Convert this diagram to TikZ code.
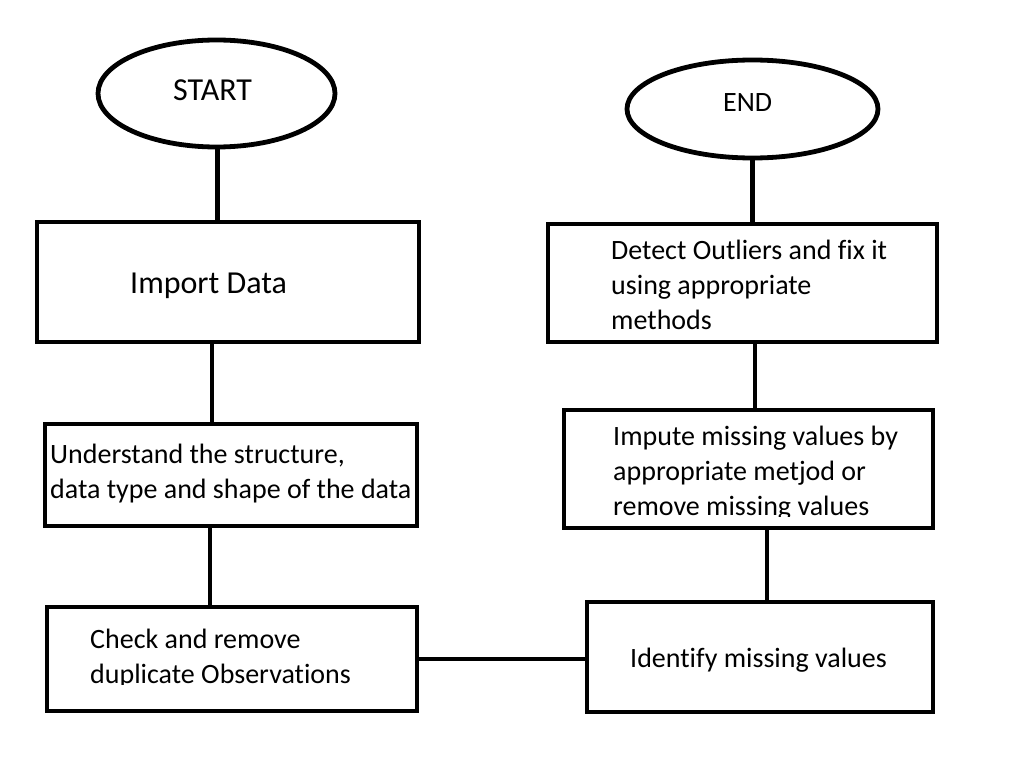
\documentclass[tikz,border=0pt]{standalone}
\usepackage{fontspec}
\setmainfont{Carlito}[Ligatures=NoCommon]
\usetikzlibrary{shapes.geometric}
\newcommand{\lines}[1]{\parbox[t]{400pt}{\raggedright #1}}
\begin{document}
\begin{tikzpicture}[x=1pt,y=-1pt,
  box/.style={draw, line width=4.8pt, rectangle, inner sep=0pt},
  oval/.style={draw, line width=4.8pt, ellipse, inner sep=0pt},
  link/.style={line width=4.8pt},
  txt/.style={inner sep=0pt, anchor=base west, font=\fontsize{28}{35}\selectfont},
  bigtxt/.style={txt, font=\fontsize{32}{38}\selectfont}]
\useasboundingbox[fill=white] (0,0) rectangle (1031,781);

% shapes
\node[oval, minimum width=237pt, minimum height=107pt] (start) at (216.5,93.5) {};
\node[oval, minimum width=251pt, minimum height=98pt] (end) at (752.5,109) {};
\node[box, minimum width=382pt, minimum height=120pt] (import) at (228,282) {};
\node[box, minimum width=372pt, minimum height=102pt] (under) at (231,475) {};
\node[box, minimum width=370pt, minimum height=104pt] (check) at (232,659) {};
\node[box, minimum width=346pt, minimum height=110pt] (ident) at (760,657) {};
\node[box, minimum width=369pt, minimum height=118pt] (impute) at (748.5,469) {};
\node[box, minimum width=389pt, minimum height=118pt] (detect) at (742.5,283) {};

% texts
\node[bigtxt] (tstart) at (173,101) {START};
\node[txt] (tend) at (723,112) {END};
\node[bigtxt] (timport) at (130,293) {Import Data};
\node[txt] (tunder) at (50,463) {\lines{Understand the structure,\\ data type and shape of the data}};
\begin{scope}
  \clip (49,609) rectangle (415,684);
  \node[txt] (tcheck) at (90,648) {\lines{Check and remove\\ duplicate Observations}};
\end{scope}
\node[txt] (tident) at (630,667) {Identify missing values};
\begin{scope}
  \clip (566,412) rectangle (931,516);
  \node[txt] (timpute) at (613,445) {\lines{Impute missing values by\\ appropriate metjod or\\ remove missing values}};
\end{scope}
\node[txt] (tdetect) at (611,259) {\lines{Detect Outliers and fix it\\ using appropriate\\ methods}};

% connectors
\draw[link] ([xshift=1pt]start.south) -- ([xshift=1pt]start.south |- import.north);
\draw[link] ([xshift=-16pt]import.south) -- ([xshift=-16pt]import.south |- under.north);
\draw[link] ([xshift=-21pt]under.south) -- ([xshift=-21pt]under.south |- check.north);
\draw[link] (check.east) -- (check.east -| ident.west);
\draw[link] ([xshift=7pt]ident.north) -- ([xshift=7pt]ident.north |- impute.south);
\draw[link] ([xshift=12.5pt]detect.south) -- ([xshift=12.5pt]detect.south |- impute.north);
\draw[link] (end.south) -- (end.south |- detect.north);
\end{tikzpicture}
\end{document}
